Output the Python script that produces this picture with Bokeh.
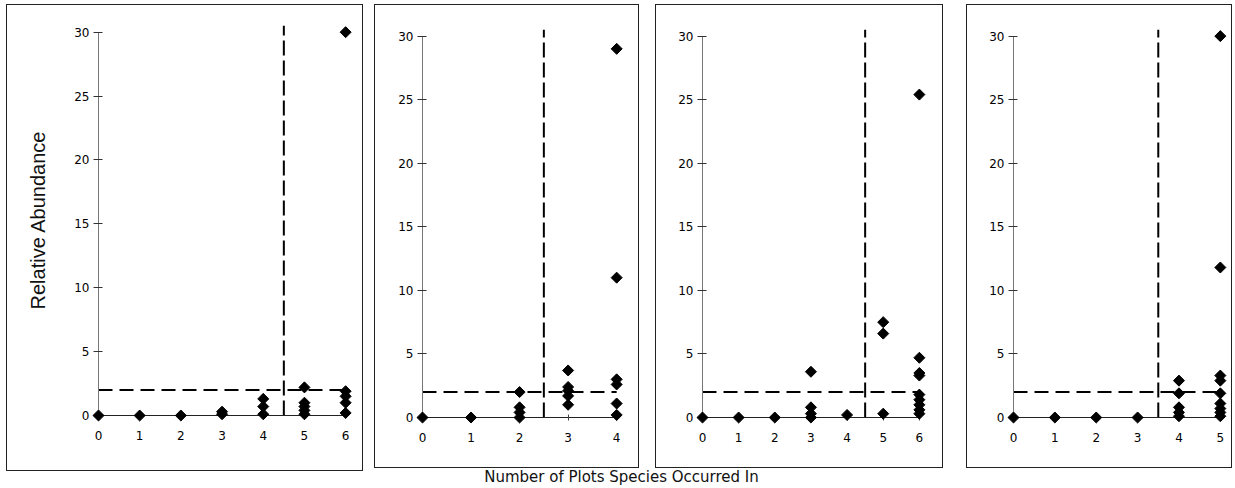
import math
from bokeh.plotting import figure
from bokeh.layouts import row, column
from bokeh.models import Range1d, FixedTicker, Label, Spacer
from bokeh.embed import file_html
from bokeh.resources import INLINE

# ---- data (x = number of plots a species occurred in, y = relative abundance) ----
p1_x = [0, 1, 2, 3, 3, 4, 4, 4, 5, 5, 5, 5, 5, 6, 6, 6, 6, 6]
p1_y = [0, 0, 0, 0.1, 0.3, 1.3, 0.7, 0.1, 2.2, 1.0, 0.7, 0.4, 0.1, 30.0, 1.9, 1.5, 1.0, 0.2]

p2_x = [0, 1, 2, 2, 2, 2, 3, 3, 3, 3, 3, 4, 4, 4, 4, 4, 4]
p2_y = [0, 0, 2.0, 0.8, 0.4, 0.0, 3.7, 2.4, 2.1, 1.7, 1.0, 29.0, 11.0, 3.0, 2.6, 1.1, 0.2]

p3_x = [0, 1, 2, 3, 3, 3, 3, 4, 5, 5, 5, 6, 6, 6, 6, 6, 6, 6, 6, 6]
p3_y = [0, 0, 0, 3.6, 0.8, 0.3, 0.0, 0.2, 7.5, 6.6, 0.3, 25.4, 4.7, 3.5, 3.3, 1.8, 1.4, 1.0, 0.6, 0.3]

p4_x = [0, 1, 2, 3, 4, 4, 4, 4, 4, 5, 5, 5, 5, 5, 5, 5, 5, 5]
p4_y = [0, 0, 0, 0, 2.9, 1.9, 0.8, 0.4, 0.1, 30.0, 11.8, 3.3, 2.9, 1.9, 1.1, 0.7, 0.4, 0.1]

max_plots = [6, 4, 6, 5]
plot_cutoffs = [4.5, 2.5, 4.5, 3.5]
abundance_cutoff = 2.0
y_ticks = [0, 5, 10, 15, 20, 25, 30]
y_label = "Relative Abundance"
x_label = "Number of Plots Species Occurred In"

TICK_FONT = "DejaVu Sans"


def make_panel(xs, ys, xmax, cut, width, height, left, top, bottom, x_end, ylabel=None):
    p = figure(width=width, height=height, output_backend="svg", toolbar_location=None,
               title=None, x_range=Range1d(0, x_end), y_range=Range1d(0, 30.6),
               min_border_left=left, min_border_right=0, min_border_top=top,
               min_border_bottom=bottom,
               styles={"outline": "1px solid #222", "outline-offset": "0px"})
    p.outline_line_color = None
    p.grid.visible = False
    p.background_fill_color = None
    p.border_fill_color = None

    p.xaxis.ticker = FixedTicker(ticks=list(range(xmax + 1)))
    p.xaxis.bounds = (0, xmax)
    p.yaxis.ticker = FixedTicker(ticks=y_ticks)
    p.yaxis.bounds = (0, 30)
    p.axis.minor_tick_line_color = None
    p.xaxis.axis_line_color = "#222"
    p.yaxis.axis_line_color = "#777"
    p.xaxis.major_tick_line_color = "#444"
    p.yaxis.major_tick_line_color = "#333"
    p.xaxis.major_tick_in = 3
    p.xaxis.major_tick_out = 3
    p.yaxis.major_tick_in = 4
    p.yaxis.major_tick_out = 5
    p.axis.major_label_text_font = TICK_FONT
    p.axis.major_label_text_font_size = "12px"
    p.axis.major_label_text_color = "#000"
    p.xaxis.major_label_standoff = 12
    p.yaxis.major_label_standoff = 4
    if ylabel:
        p.yaxis.axis_label = ylabel
        p.yaxis.axis_label_text_font = "Liberation Sans"
        p.yaxis.axis_label_text_font_style = "normal"
        p.yaxis.axis_label_text_font_size = "20px"
        p.yaxis.axis_label_text_color = "#111"
        p.yaxis.axis_label_standoff = 22

    # threshold lines
    p.line([0, xmax], [abundance_cutoff, abundance_cutoff], line_color="black",
           line_width=2, line_dash="14 7")
    p.line([cut, cut], [0, 30.5], line_color="black", line_width=2, line_dash="15 5")

    p.scatter(xs, ys, marker="square", angle=math.pi / 4, size=7.8,
              fill_color="black", line_color="black", level="overlay")
    return p


p1 = make_panel(p1_x, p1_y, max_plots[0], plot_cutoffs[0], 355, 465, 91, 19, 55, 6.41, y_label)
p2 = make_panel(p2_x, p2_y, max_plots[1], plot_cutoffs[1], 263, 462, 47, 23, 50, 4.45)
p3 = make_panel(p3_x, p3_y, max_plots[2], plot_cutoffs[2], 286, 462, 46, 23, 50, 6.64)
p4 = make_panel(p4_x, p4_y, max_plots[3], plot_cutoffs[3], 264, 462, 46, 23, 50, 5.27)

t = figure(width=567, height=18, output_backend="svg", toolbar_location=None, title=None,
           x_range=Range1d(0, 567), y_range=Range1d(0, 18), x_axis_type=None, y_axis_type=None,
           min_border=0)
t.outline_line_color = None
t.grid.visible = False
t.background_fill_color = None
t.border_fill_color = None
t.add_layout(Label(x=246, y=9, text=x_label, text_align="center", text_baseline="middle",
                   text_font=TICK_FONT, text_font_size="15px", text_color="#111"))

middle = column(row(column(p2), Spacer(width=18), column(p3)), t)
body = row(Spacer(width=7), column(p1), Spacer(width=13), middle, Spacer(width=25), column(p4))
layout = column(Spacer(height=5), body)

open("out.html", "w").write(file_html(layout, INLINE))
